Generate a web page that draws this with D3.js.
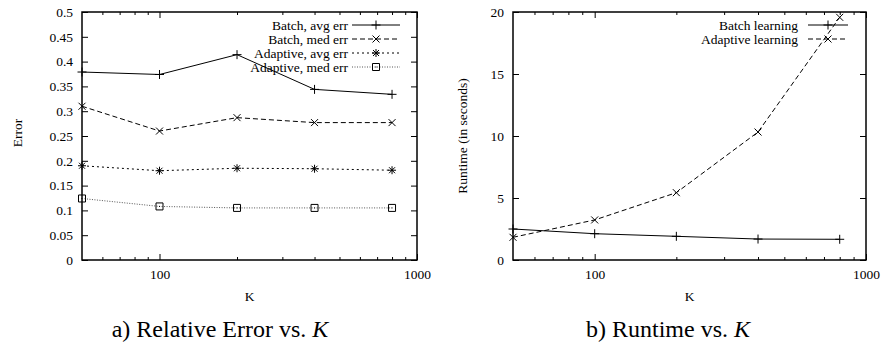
<!DOCTYPE html>
<html><head><meta charset="utf-8">
<script src="https://cdn.jsdelivr.net/npm/d3@7"></script>
</head>
<body style="margin:0"><svg id="c" width="883" height="344" style="display:block;background:#fff"></svg>
<script>
// ---- data ----
const K = [50, 100, 200, 400, 800];
const batchAvgErr = [0.379, 0.374, 0.414, 0.344, 0.334];
const batchMedErr = [0.310, 0.260, 0.287, 0.277, 0.277];
const adaptAvgErr = [0.190, 0.180, 0.185, 0.184, 0.181];
const adaptMedErr = [0.124, 0.108, 0.105, 0.105, 0.105];
const batchRuntime = [2.50, 2.12, 1.91, 1.69, 1.67];
const adaptRuntime = [1.83, 3.23, 5.43, 10.32, 19.57];
const xMajorTicks = [100, 1000];
const xMinorTicks = [60, 70, 80, 90, 200, 300, 400, 500, 600, 700, 800, 900];
const errTicks = [0, 0.05, 0.1, 0.15, 0.2, 0.25, 0.3, 0.35, 0.4, 0.45, 0.5];
const rtTicks = [0, 5, 10, 15, 20];
const errLegend = ["Batch, avg err", "Batch, med err", "Adaptive, avg err", "Adaptive, med err"];
const rtLegend = ["Batch learning", "Adaptive learning"];

const svg = d3.select("#c");
const FONT = "Liberation Serif";
const FS = 13.5;

function marker(g, type, x, y) {
  const s = 4;
  const p = g.append("path").attr("fill", "none").attr("stroke", "#000").attr("stroke-width", 1);
  let d = "";
  if (type === "plus") d = `M${x-s-0.5},${y}H${x+s+0.5}M${x},${y-s-0.5}V${y+s+0.5}`;
  else if (type === "cross") d = `M${x-3.5},${y-3.5}L${x+3.5},${y+3.5}M${x-3.5},${y+3.5}L${x+3.5},${y-3.5}`;
  else if (type === "star") d = `M${x-4},${y}H${x+4}M${x},${y-4}V${y+4}M${x-3},${y-3}L${x+3},${y+3}M${x-3},${y+3}L${x+3},${y-3}`;
  else if (type === "square") d = `M${x-3.5},${y-3.5}h7v7h-7zM${x-0.5},${y}h1`;
  p.attr("d", d);
}

function styleText(sel, size) {
  return sel.style("font-family", FONT).style("font-size", size + "px").attr("fill", "#000");
}

function panel(o) {
  const {x0, x1, y0, y1, yDomain, yTicks, yFmt, series, legend, legX, legLineX0, legLineX1, legY0, ylabel, ylabX, ylabY, title, titleX} = o;
  const g = svg.append("g").style("font-family", FONT);
  const x = d3.scaleLog().domain([50, 1000]).range([x0, x1]);
  const y = d3.scaleLinear().domain(yDomain).range([y1, y0]);

  g.append("g").attr("transform", `translate(0,${y1})`)
    .call(d3.axisBottom(x).tickValues(xMajorTicks).tickFormat(d3.format("d")).tickSizeInner(-6).tickSizeOuter(0).tickPadding(9));
  g.append("g").attr("transform", `translate(0,${y1})`)
    .call(d3.axisBottom(x).tickValues(xMinorTicks).tickFormat("").tickSizeInner(-3).tickSizeOuter(0));
  g.append("g").attr("transform", `translate(0,${y0})`)
    .call(d3.axisTop(x).tickValues(xMajorTicks).tickFormat("").tickSizeInner(-6).tickSizeOuter(0));
  g.append("g").attr("transform", `translate(0,${y0})`)
    .call(d3.axisTop(x).tickValues(xMinorTicks).tickFormat("").tickSizeInner(-3).tickSizeOuter(0));
  g.append("g").attr("transform", `translate(${x0},0)`)
    .call(d3.axisLeft(y).tickValues(yTicks).tickFormat(yFmt).tickSizeInner(-6).tickSizeOuter(0).tickPadding(9));
  g.append("g").attr("transform", `translate(${x1},0)`)
    .call(d3.axisRight(y).tickValues(yTicks).tickFormat("").tickSizeInner(-6).tickSizeOuter(0));
  g.selectAll(".domain").remove();
  g.selectAll("g").attr("font-family", null).attr("font-size", null);
  g.selectAll(".tick line").attr("stroke", "#000").attr("stroke-width", 1);
  styleText(g.selectAll(".tick text"), FS);

  g.append("rect").attr("x", x0).attr("y", y0).attr("width", x1 - x0).attr("height", y1 - y0)
    .attr("fill", "none").attr("stroke", "#000").attr("stroke-width", 1.5);

  const line = d3.line().x(d => x(d[0])).y(d => y(d[1]));
  series.forEach((s, i) => {
    const pts = K.map((k, j) => [k, s.values[j]]);
    g.append("path").attr("d", line(pts)).attr("fill", "none")
      .attr("stroke", s.color || "#000").attr("stroke-width", 1).attr("stroke-dasharray", s.dash || null);
    pts.forEach(p => marker(g, s.marker, x(p[0]), y(p[1])));
    const ly = legY0 + i * 14;
    styleText(g.append("text").attr("x", legX).attr("y", ly).attr("dy", "0.35em").attr("text-anchor", "end"), FS)
      .text(legend[i]);
    g.append("line").attr("x1", legLineX0).attr("x2", legLineX1).attr("y1", ly).attr("y2", ly)
      .attr("stroke", s.color || "#000").attr("stroke-width", 1).attr("stroke-dasharray", s.dash || null);
    marker(g, s.marker, (legLineX0 + legLineX1) / 2, ly);
  });

  styleText(g.append("text").attr("x", (x0 + x1) / 2).attr("y", 301).attr("text-anchor", "middle"), FS).text("K");
  styleText(g.append("text").attr("transform", `translate(${ylabX},${ylabY}) rotate(-90)`).attr("text-anchor", "middle"), FS)
    .text(ylabel);
  const t = styleText(g.append("text").attr("x", titleX).attr("y", 337).attr("text-anchor", "middle"), 24);
  t.append("tspan").text(title);
  t.append("tspan").style("font-style", "italic").text("K");
}

panel({
  x0: 82, x1: 417, y0: 12, y1: 260,
  yDomain: [0, 0.5], yTicks: errTicks, yFmt: d => d === 0 ? "0" : String(+d.toFixed(2)),
  series: [
    {values: batchAvgErr, marker: "plus"},
    {values: batchMedErr, marker: "cross", dash: "5,3"},
    {values: adaptAvgErr, marker: "star", dash: "2,3"},
    {values: adaptMedErr, marker: "square", dash: "1,1.5", color: "#555"}
  ],
  legend: errLegend, legX: 348, legLineX0: 352, legLineX1: 400, legY0: 25,
  ylabel: "Error", ylabX: 22, ylabY: 133,
  title: "a) Relative Error vs. ", titleX: 220
});

panel({
  x0: 513, x1: 866, y0: 12, y1: 260,
  yDomain: [0, 20], yTicks: rtTicks, yFmt: d3.format("d"),
  series: [
    {values: batchRuntime, marker: "plus"},
    {values: adaptRuntime, marker: "cross", dash: "5,3"}
  ],
  legend: rtLegend, legX: 798, legLineX0: 808, legLineX1: 848, legY0: 25,
  ylabel: "Runtime (in seconds)", ylabX: 467, ylabY: 136,
  title: "b) Runtime vs. ", titleX: 668
});
</script></body></html>
